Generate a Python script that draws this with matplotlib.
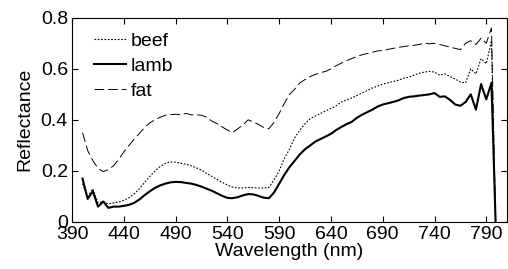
import matplotlib.pyplot as plt

plt.rcParams['font.family'] = ['Liberation Sans', 'DejaVu Sans']

wavelength = list(range(400, 800, 5)) + [799]

lamb = [0.17, 0.09, 0.12, 0.06, 0.08, 0.055, 0.06, 0.06, 0.063, 0.067,
        0.075, 0.088, 0.105, 0.12, 0.133, 0.143, 0.150, 0.155, 0.157, 0.156,
        0.153, 0.150, 0.145, 0.138, 0.130, 0.122, 0.112, 0.102, 0.094, 0.093,
        0.097, 0.104, 0.109, 0.108, 0.102, 0.095, 0.093, 0.115, 0.150, 0.185,
        0.215, 0.24, 0.265, 0.285, 0.30, 0.315, 0.325, 0.335, 0.345, 0.36,
        0.372, 0.383, 0.392, 0.408, 0.42, 0.43, 0.44, 0.452, 0.46, 0.465,
        0.47, 0.476, 0.485, 0.49, 0.492, 0.495, 0.497, 0.50, 0.505, 0.49,
        0.492, 0.478, 0.46, 0.455, 0.47, 0.50, 0.44, 0.54, 0.48, 0.545,
        0.0]

beef = [0.15, 0.10, 0.13, 0.075, 0.08, 0.07, 0.075, 0.078, 0.085, 0.095,
        0.11, 0.13, 0.155, 0.178, 0.20, 0.217, 0.23, 0.235, 0.234, 0.23,
        0.226, 0.22, 0.212, 0.203, 0.19, 0.178, 0.166, 0.155, 0.145, 0.136,
        0.133, 0.133, 0.135, 0.134, 0.133, 0.133, 0.135, 0.165, 0.20, 0.25,
        0.285, 0.33, 0.36, 0.385, 0.405, 0.415, 0.425, 0.435, 0.445, 0.455,
        0.47, 0.478, 0.486, 0.495, 0.505, 0.515, 0.525, 0.532, 0.54, 0.545,
        0.55, 0.555, 0.563, 0.567, 0.575, 0.582, 0.587, 0.59, 0.587, 0.575,
        0.58, 0.57, 0.56, 0.548, 0.545, 0.60, 0.58, 0.64, 0.62, 0.71,
        0.0]

fat = [0.35, 0.28, 0.24, 0.21, 0.197, 0.205, 0.22, 0.245, 0.275, 0.30,
       0.325, 0.347, 0.37, 0.388, 0.40, 0.41, 0.418, 0.42, 0.422, 0.42,
       0.425, 0.42, 0.42, 0.418, 0.41, 0.395, 0.385, 0.372, 0.36, 0.35,
       0.365, 0.38, 0.40, 0.392, 0.382, 0.37, 0.365, 0.39, 0.425, 0.465,
       0.50, 0.52, 0.545, 0.558, 0.57, 0.578, 0.585, 0.59, 0.60, 0.612,
       0.622, 0.632, 0.64, 0.648, 0.655, 0.66, 0.665, 0.67, 0.672, 0.676,
       0.68, 0.684, 0.687, 0.69, 0.692, 0.695, 0.70, 0.698, 0.70, 0.695,
       0.69, 0.685, 0.68, 0.675, 0.70, 0.71, 0.695, 0.72, 0.70, 0.76,
       0.0]

xticks = [390, 440, 490, 540, 590, 640, 690, 740, 790]
yticks = [0, 0.2, 0.4, 0.6, 0.8]

fig = plt.figure(figsize=(5.08, 2.69), dpi=100)
ax = fig.add_axes([0.142, 0.175, 0.856, 0.759])

ax.plot(wavelength, beef, color='black', linestyle=(0, (1.5, 1.5)), linewidth=0.8, label='beef')
ax.plot(wavelength, lamb, color='black', linestyle='-', linewidth=1.5, label='lamb')
ax.plot(wavelength, fat, color='black', linestyle=(0, (10, 4)), linewidth=0.7, label='fat')

ax.set_xlim(390, 810)
ax.set_ylim(0, 0.8)
ax.set_xticks(xticks)
ax.set_yticks(yticks)
ax.set_yticklabels(['0', '0.2', '0.4', '0.6', '0.8'])
ax.tick_params(direction='in', top=True, right=True, length=4, labelsize=14, pad=3)
ax.set_xlabel('Wavelength (nm)', fontsize=14, labelpad=0)
ax.set_ylabel('Reflectance', fontsize=14, labelpad=5)

ax.legend(loc='upper left', bbox_to_anchor=(0.05, 0.93), frameon=False, fontsize=14,
          handlelength=1.65, handletextpad=0.25, labelspacing=0.38, borderpad=0,
          borderaxespad=0)

fig.savefig('out.png', dpi=100)
